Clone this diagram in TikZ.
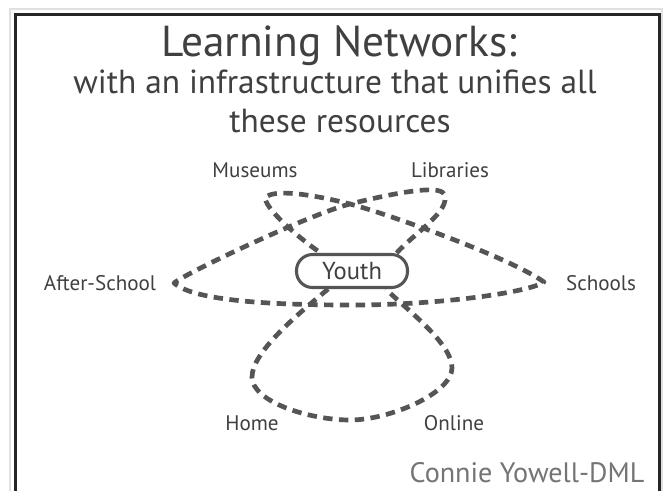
\documentclass[tikz,border=0pt]{standalone}
\usepackage{fontspec}
\setmainfont{PT Sans}
\definecolor{loopgray}{HTML}{555555}
\definecolor{textgray}{HTML}{404040}
\definecolor{signgray}{HTML}{747474}
\begin{document}
\begin{tikzpicture}[x=0.03cm,y=-0.03cm,
    titlebig/.style={text=textgray,inner sep=0pt,anchor=base,font=\fontsize{37}{39}\selectfont},
    titlesmall/.style={text=textgray,inner sep=0pt,anchor=base,font=\fontsize{28.5}{30}\selectfont},
    res/.style={text=textgray,inner sep=0pt,anchor=base,font=\fontsize{18}{20}\selectfont},
    hub/.style={draw=loopgray,line width=2.6pt,rounded corners=0.48cm,fill=white,minimum width=3.33cm,minimum height=0.99cm,inner sep=0pt,text=textgray,font=\fontsize{21}{23}\selectfont},
    loopline/.style={draw=loopgray,line width=4pt,dash pattern=on 8pt off 5.5pt,line join=round}
  ]
  \useasboundingbox (0,0) rectangle (667,490);
  \fill[white] (0,0) rectangle (667,490);
  % frame
  \draw[black!12,line width=2.5pt] (10,495) -- (10,9) -- (662,9) -- (662,495);
  \draw[black!85,line width=2.6pt] (15.5,495) -- (15.5,14.5) -- (659.5,14.5) -- (659.5,495);
  % title
  \node[titlebig] (ttl) at (339,56) {Learning Networks:};
  \node[titlesmall] (sub1) at (335,93) {with an infrastructure that unifies all};
  \node[titlesmall] (sub2) at (340,132) {these resources};
  % resources
  \node[res] (mus) at (255,177) {Museums};
  \node[res] (lib) at (450,177) {Libraries};
  \node[res] (aft) at (100,290) {After-School};
  \node[res] (sch) at (601,290) {Schools};
  \node[res] (hom) at (252,430) {Home};
  \node[res] (onl) at (454,430) {Online};
  \node[hub] (youth) at (352,271) {Youth};
  % loop corners
  \coordinate (cLib) at (444,194);
  \coordinate (cross) at (350,204);
  \coordinate (cAft) at (174,283);
  \coordinate (cBot) at (352,305);
  \coordinate (cSch) at (544,282);
  \coordinate (cMus) at (265,198);
  \coordinate (cHom) at (252,377);
  \coordinate (cLow) at (350,420);
  \coordinate (cOnl) at (452,368);
  % upper loops
  \draw[loopline] (youth.22) .. controls +(18,-20) and +(8,16) .. (cLib)
    .. controls +(-5,-10) and +(40,-10) .. (cross)
    .. controls +(-40,10) and +(12,-10) .. (cAft)
    .. controls +(20,18) and +(-80,0) .. (cBot)
    .. controls +(90,0) and +(-14,10) .. (cSch)
    .. controls +(-35,-25) and +(35,9) .. (cross)
    .. controls +(-35,-9) and +(8,-10) .. (cMus)
    .. controls +(2,14) and +(-15,-10) .. (youth.150);
  % lower loop
  \draw[loopline] (youth.217) .. controls +(-30,25) and +(0,-25) .. (cHom)
    .. controls +(0,25) and +(-40,0) .. (cLow)
    .. controls +(40,0) and +(0,25) .. (cOnl)
    .. controls +(0,-25) and +(20,20) .. (youth.332);
  \node[text=signgray,inner sep=0pt,anchor=base,font=\fontsize{24}{26}\selectfont] (sign) at (527,482) {Connie Yowell-DML};
\end{tikzpicture}
\end{document}
